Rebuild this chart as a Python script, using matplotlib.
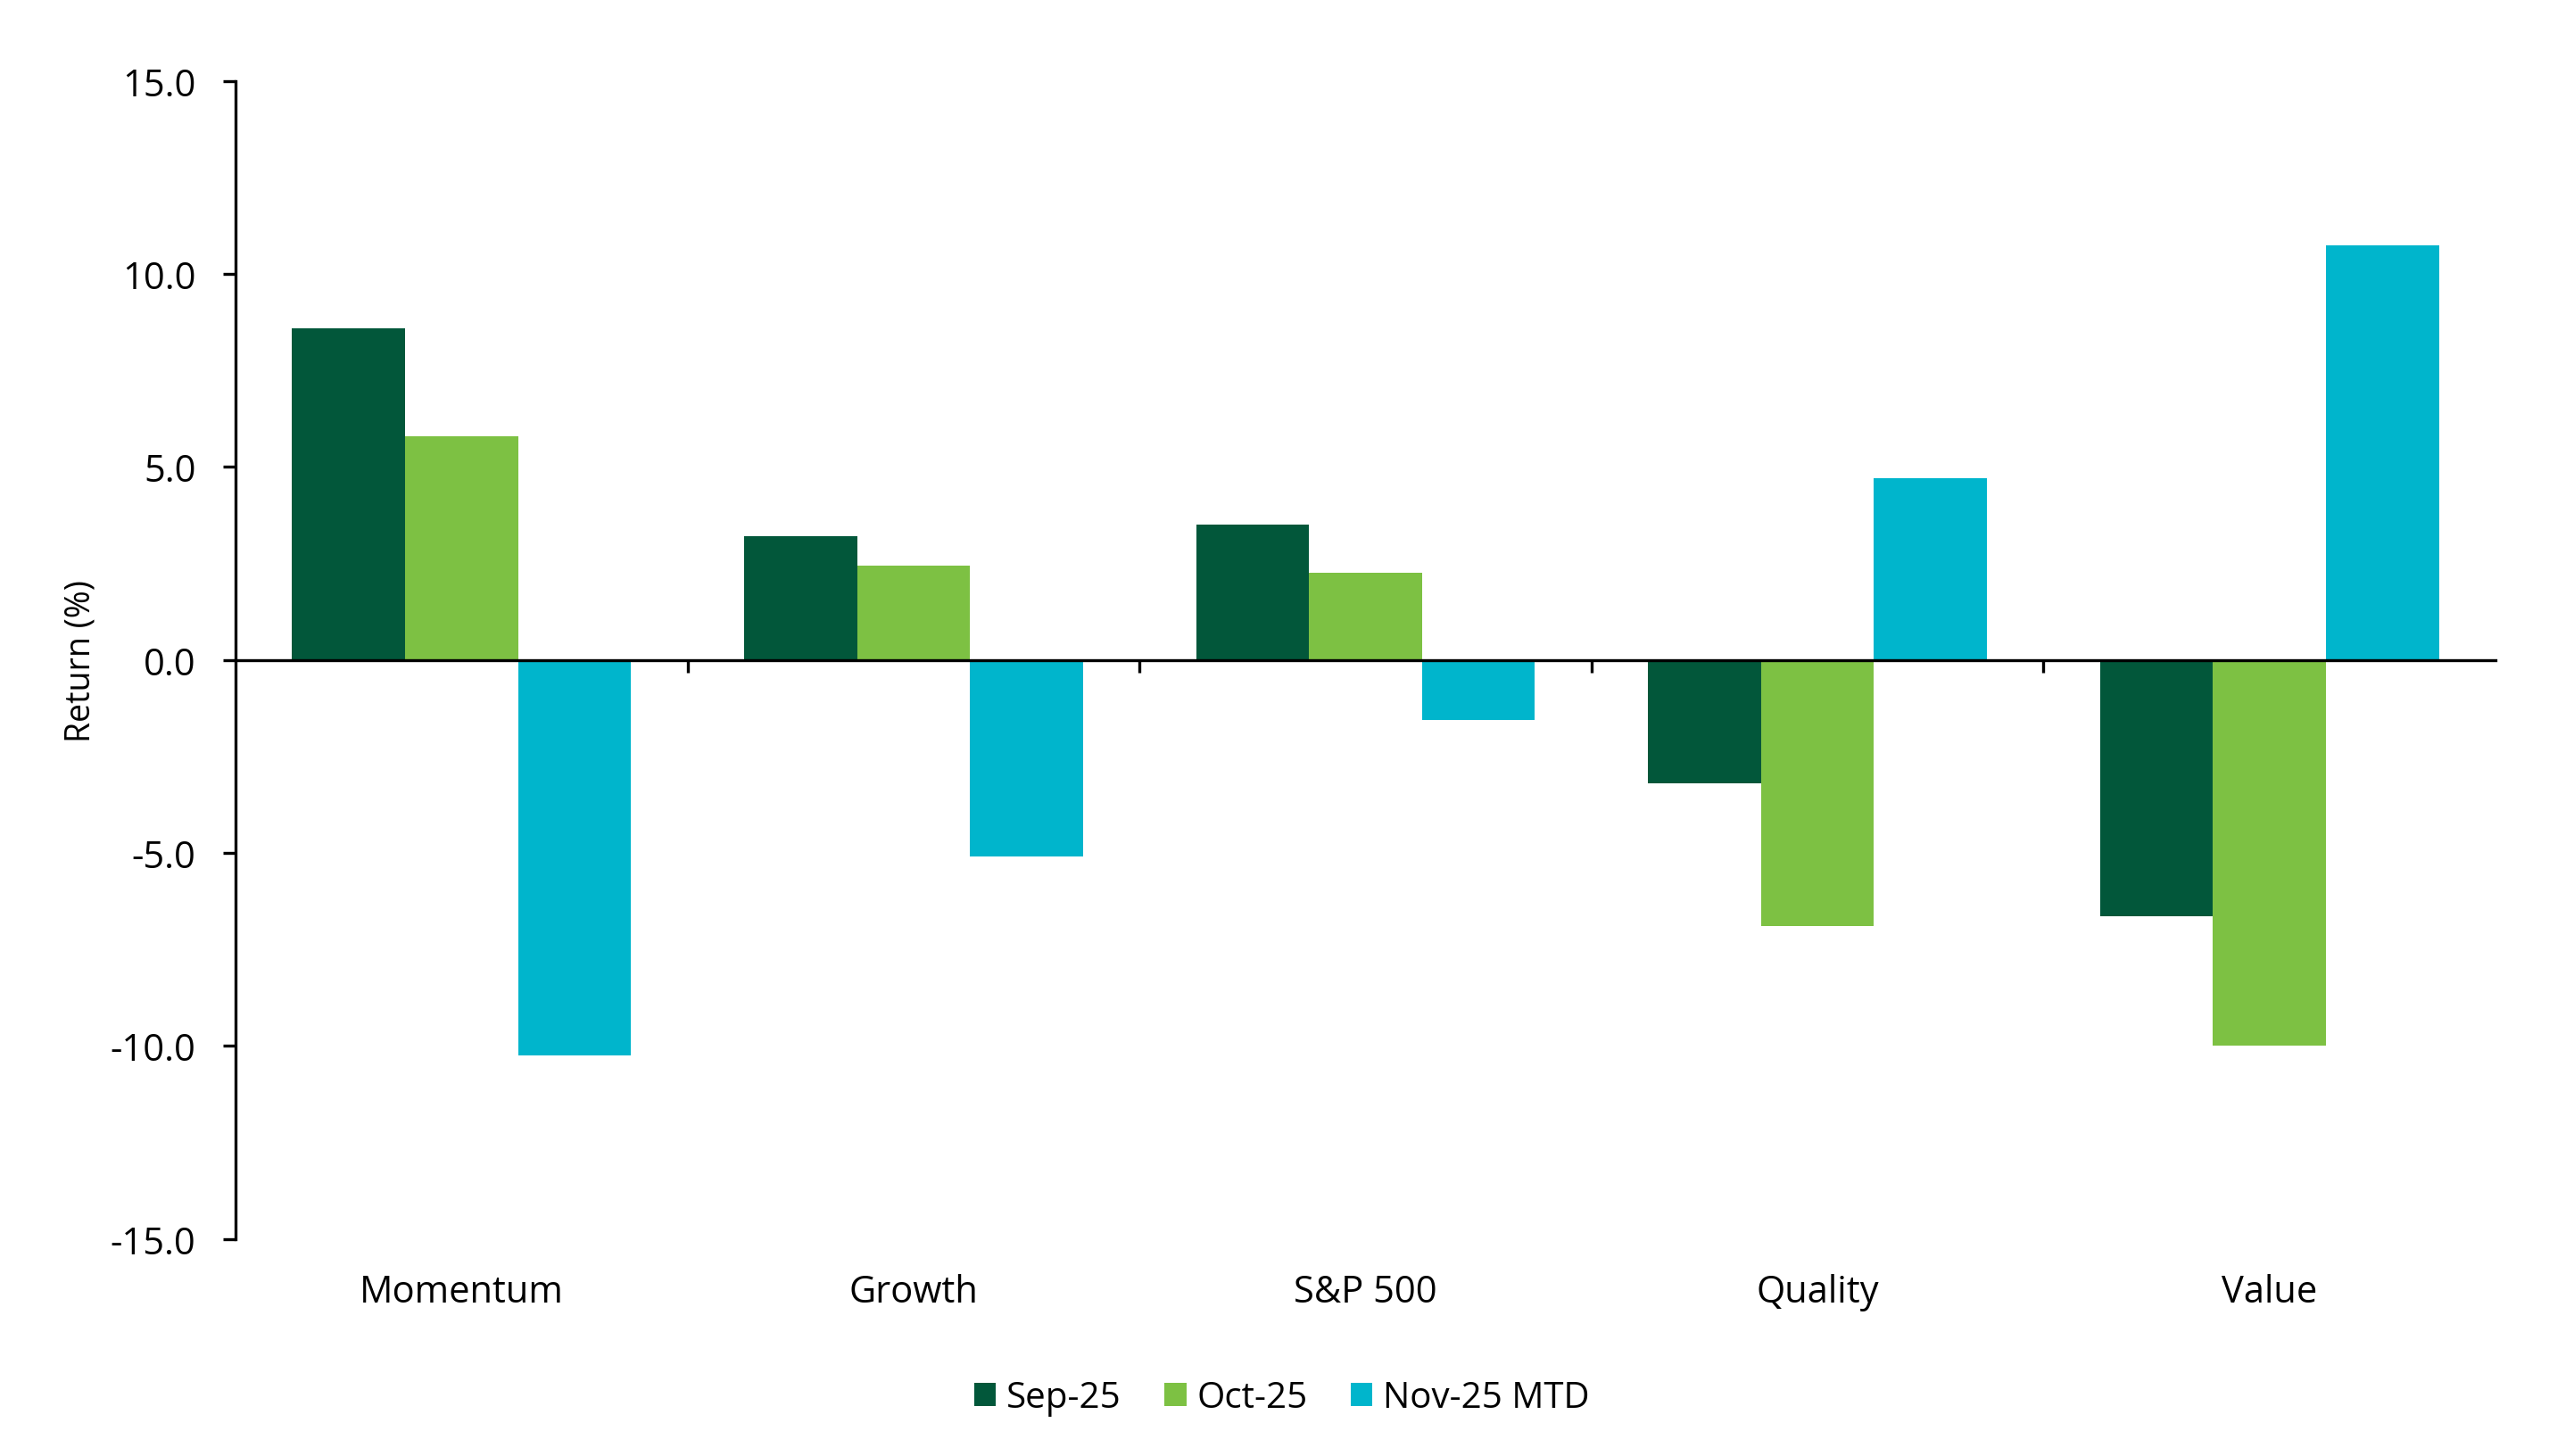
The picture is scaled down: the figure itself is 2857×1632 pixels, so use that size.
import matplotlib
matplotlib.use("Agg")
import matplotlib.pyplot as plt
from matplotlib.patches import Patch
from matplotlib.ticker import FixedLocator, FuncFormatter
import numpy as np

plt.rcParams['font.family'] = ['Open Sans', 'DejaVu Sans']
plt.rcParams['axes.unicode_minus'] = False

# data
categories = ["Momentum", "Growth", "S&P 500", "Quality", "Value"]
series_names = ["Sep-25", "Oct-25", "Nov-25 MTD"]
sep25 = [8.6, 3.2, 3.5, -3.2, -6.65]
oct25 = [5.8, 2.45, 2.25, -6.9, -10.0]
nov25 = [-10.25, -5.1, -1.55, 4.7, 10.75]
colors = ["#02573A", "#7DC143", "#00B5CC"]

fig = plt.figure(figsize=(14.285, 8.165), dpi=200)
ax = fig.add_axes([0.0924, 0.149, 0.8866, 0.7948])

x = np.arange(len(categories))
w = 0.25
for i, (vals, c) in enumerate(zip([sep25, oct25, nov25], colors)):
    ax.bar(x + (i - 1) * w, vals, width=w, color=c, linewidth=0)

ax.set_xlim(-0.5, len(categories) - 0.5)
ax.set_ylim(-15, 15)
ax.yaxis.set_major_locator(FixedLocator(np.arange(-15, 15.1, 5)))
ax.yaxis.set_major_formatter(FuncFormatter(lambda v, p: f"{v:.1f}"))

for s in ['top', 'right']:
    ax.spines[s].set_visible(False)
ax.spines['bottom'].set_position(('data', 0))
ax.spines['bottom'].set_linewidth(1.2)
ax.spines['left'].set_linewidth(1.2)

ax.set_xticks(np.arange(0.5, len(categories) - 0.5, 1))
ax.set_xticklabels([])
ax.tick_params(axis='x', direction='out', length=5, width=1.2)
ax.tick_params(axis='y', direction='out', length=5, width=1.2, labelsize=15, pad=11)

for xi, name in zip(x, categories):
    ax.text(xi, -0.046, name, transform=ax.get_xaxis_transform(),
            ha='center', va='center', fontsize=15)

ax.set_ylabel("Return (%)", fontsize=13.5, labelpad=5)

handles = [Patch(facecolor=c, label=n) for c, n in zip(colors, series_names)]
fig.legend(handles=handles, loc='center', bbox_to_anchor=(0.503, 0.04), ncol=3,
           frameon=False, fontsize=14.5, handlelength=0.6, handleheight=0.6,
           handletextpad=0.3, columnspacing=1.2)

fig.savefig("out.png", dpi=200)
